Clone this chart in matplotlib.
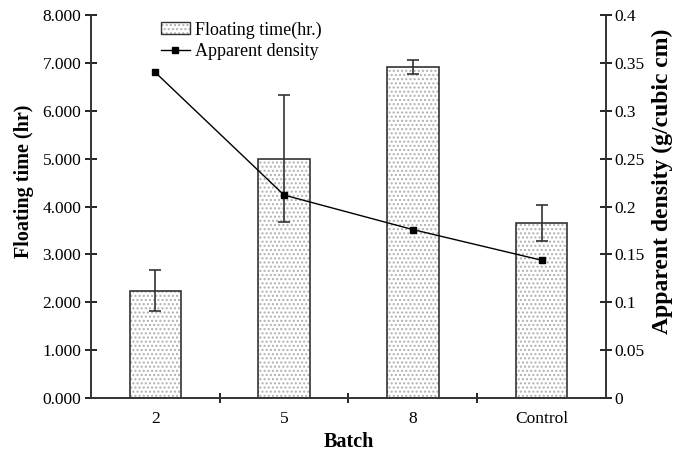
import matplotlib.pyplot as plt
from matplotlib.patches import Patch
from matplotlib.lines import Line2D
from matplotlib.ticker import FormatStrFormatter, FixedLocator

batches = ["2", "5", "8", "Control"]
floating_time = [2.24, 5.0, 6.91, 3.66]
floating_err = [0.43, 1.32, 0.15, 0.38]
density = [0.340, 0.212, 0.176, 0.144]

plt.rcParams['font.family'] = ['Liberation Serif', 'DejaVu Serif']

fig = plt.figure(figsize=(6.74, 4.54), dpi=100)
ax = fig.add_axes([0.135, 0.123, 0.764, 0.844])
ax2 = ax.twinx()

x = range(len(batches))
# dotted fill in grey, outline in black
ax.bar(x, floating_time, width=0.4, color="white", edgecolor="#b0b0b0",
       hatch="....", linewidth=0, zorder=2)
ax.bar(x, floating_time, width=0.4, color="none", edgecolor="#333333",
       linewidth=1.2, zorder=3, yerr=floating_err, capsize=4,
       error_kw=dict(ecolor="#333333", elinewidth=1.2, capthick=1.2))

ax2.plot(x, density, color="black", marker="s", markersize=5,
         linewidth=1, zorder=4)

ax.set_xlim(-0.5, 3.5)
ax.set_ylim(0, 8)
ax2.set_ylim(0, 0.4)
ax.set_yticks(range(0, 9))
ax.yaxis.set_major_formatter(FormatStrFormatter("%.3f"))
ax2.set_yticks([0, 0.05, 0.1, 0.15, 0.2, 0.25, 0.3, 0.35, 0.4])
ax2.set_yticklabels(["0", "0.05", "0.1", "0.15", "0.2", "0.25", "0.3", "0.35", "0.4"])

ax.set_xticks(list(x))
ax.set_xticklabels(batches)
ax.xaxis.set_minor_locator(FixedLocator([0.5, 1.5, 2.5]))
ax.tick_params(axis="x", which="major", length=0, labelsize=12.5, pad=9)
ax.tick_params(axis="x", which="minor", length=7, direction="inout", width=1.2)
ax.tick_params(axis="y", direction="inout", length=8, width=1.2, labelsize=12.5, pad=3)
ax2.tick_params(axis="y", direction="inout", length=8, width=1.2, labelsize=12.5, pad=2)

for a in (ax, ax2):
    a.spines["top"].set_visible(False)
    for s in ("left", "right", "bottom"):
        a.spines[s].set_linewidth(1.2)
        a.spines[s].set_color("#333333")

ax.set_xlabel("Batch", fontsize=14.5, fontweight="bold", labelpad=4)
ax.set_ylabel("Floating time (hr)", fontsize=14.5, fontweight="bold", labelpad=6)
ax2.set_ylabel("Apparent density (g/cubic cm)", fontsize=17, fontweight="bold", labelpad=5)
ax.yaxis.label.set_y(0.567)
ax2.yaxis.label.set_y(0.567)

bar_handle = (Patch(facecolor="white", edgecolor="#b0b0b0", hatch="....", linewidth=0),
              Patch(facecolor="none", edgecolor="#333333", linewidth=1))
line_handle = Line2D([], [], color="black", marker="s", markersize=5, linewidth=1)
ax.legend([bar_handle, line_handle], ["Floating time(hr.)", "Apparent density"],
          loc="upper left", bbox_to_anchor=(0.115, 1.012), frameon=False,
          fontsize=13, handlelength=1.6, handleheight=0.6, handletextpad=0.3,
          labelspacing=0.25, borderaxespad=0.2)

fig.savefig("out.png", dpi=100)
